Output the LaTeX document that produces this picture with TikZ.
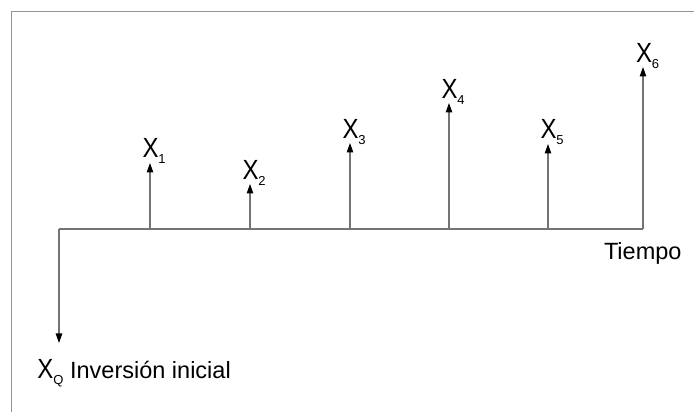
\documentclass[tikz,border=0pt]{standalone}
\usepackage{fontspec}
\setmainfont{Liberation Sans}
\usetikzlibrary{arrows.meta}
\newcommand{\lowsub}[1]{\raisebox{-6pt}{\fontsize{13}{13}\selectfont #1}}
\newcommand{\bigX}{\scalebox{1.02}[1.18]{X}}
\tikzset{
  frameline/.style={draw=black!42, line width=1.8pt},
  axisline/.style={draw=black!55, line width=1.2pt},
  flow/.style={draw=black!55, line width=1.2pt, -{Triangle[width=6.5pt,length=9.5pt,black]}},
  lab/.style={inner sep=0pt, outer sep=0pt, font=\fontsize{23.5}{23.5}\selectfont, anchor=base west}
}
\begin{document}
\begin{tikzpicture}[x=1pt,y=1pt]
\useasboundingbox (0,0) rectangle (694,412);
\fill[white] (0,0) rectangle (694,412);
\begin{scope}
\clip (0,0) rectangle (694,412);
\draw[frameline] (11.5,-20) -- (11.5,400.5) -- (720,400.5);
\end{scope}
% axis
\coordinate (a0) at (59,183);
\coordinate (a6) at (643,183);
\draw[axisline] (a0) -- (a6);
% stems
\coordinate (b1) at (150,183); \coordinate (t1) at (150,249);
\coordinate (b2) at (250,183); \coordinate (t2) at (250,228);
\coordinate (b3) at (350,183); \coordinate (t3) at (350,269);
\coordinate (b4) at (449,183); \coordinate (t4) at (449,309);
\coordinate (b5) at (548,183); \coordinate (t5) at (548,268);
\coordinate (t6) at (643,345);
\draw[flow] (b1) -- (t1);
\draw[flow] (b2) -- (t2);
\draw[flow] (b3) -- (t3);
\draw[flow] (b4) -- (t4);
\draw[flow] (b5) -- (t5);
\draw[flow] (a6) -- (t6);
% initial investment
\coordinate (q) at (59,69);
\draw[flow] (a0) -- (q);
% labels
\node[lab] (l1) at (142.5,254) {\bigX\lowsub{1}};
\node[lab] (l2) at (242.5,232) {\bigX\lowsub{2}};
\node[lab] (l3) at (342.5,273) {\bigX\lowsub{3}};
\node[lab] (l4) at (441.5,313) {\bigX\lowsub{4}};
\node[lab] (l5) at (540.5,273) {\bigX\lowsub{5}};
\node[lab] (l6) at (636,349) {\bigX\lowsub{6}};
\node[lab] (tiempo) at (604,152) {Tiempo};
\node[lab] (inv) at (37.5,33) {\bigX\lowsub{Q} Inversión inicial};
\end{tikzpicture}
\end{document}
